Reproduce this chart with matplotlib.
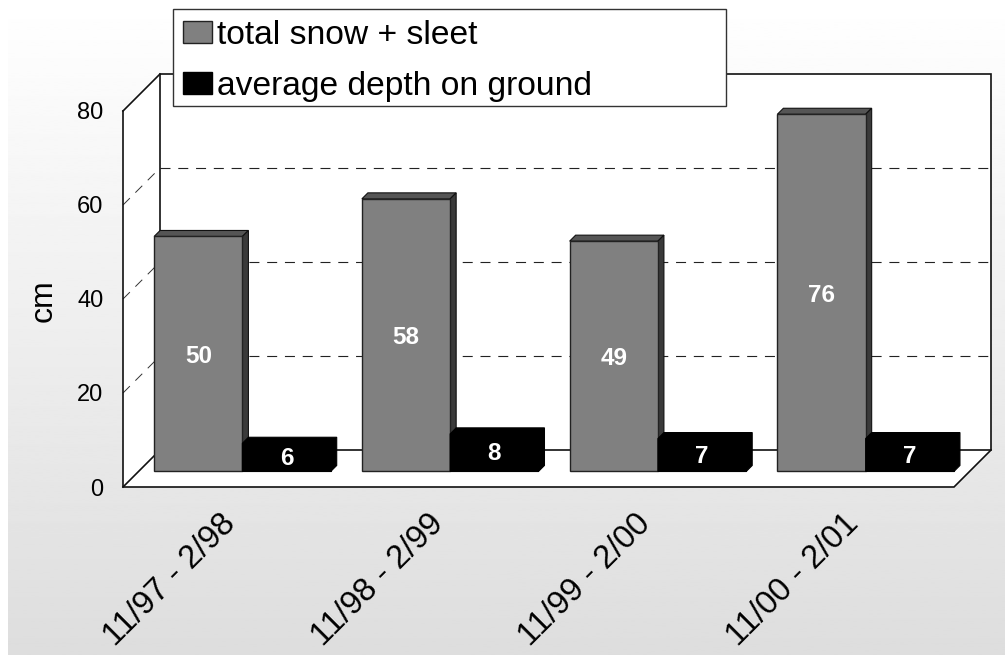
import numpy as np
import matplotlib
matplotlib.use("Agg")
import matplotlib.pyplot as plt
from matplotlib.patches import Patch, Rectangle

plt.rcParams["font.family"] = ["Liberation Sans", "DejaVu Sans"]

# data
periods = ["11/97 - 2/98", "11/98 - 2/99", "11/99 - 2/00", "11/00 - 2/01"]
total_snow = [50, 58, 49, 76]
avg_depth = [6, 8, 7, 7]
y_ticks = [0, 20, 40, 60, 80]
grid_vals = [20, 40, 60]

W, H = 1005, 655
DPI = 100
PX_X = 831 / 4    # pixels per category
PX_Y = 376 / 80   # pixels per cm
DX = 37 / PX_X    # full depth of the box in data units
DY = 37 / PX_Y
BAR_W = 0.425
BAR_D = 0.42      # bars stand at this fraction of the box depth
CAP = 6 / 37      # depth of a bar as a fraction of the box depth
LABEL_DROP = 2.5 / PX_Y

GRAY = "#808080"
GRAY_TOP = "#555555"
GRAY_SIDE = "#3a3a3a"
LINE = "#111111"

fig = plt.figure(figsize=(W / DPI, H / DPI), dpi=DPI, facecolor="white")

# gradient background
bg = fig.add_axes([8 / W, 0, 1 - 8 / W, 1], zorder=0)
bg.imshow(np.linspace(1.0, 0.868, 256).reshape(-1, 1), aspect="auto",
          cmap="gray", vmin=0, vmax=1)
bg.axis("off")

ax = fig.add_axes([123 / W, (H - 487) / H, 831 / W, 376 / H], zorder=1)
ax.set_xlim(0, 4)
ax.set_ylim(0, 80)
ax.patch.set_visible(False)
for s in ax.spines.values():
    s.set_visible(False)


def deep(x, y, d):
    # project a point of the front plane back into the box
    return x + d * DX, y + d * DY


def poly(points, d=0.0, **kw):
    xs, ys = zip(*[deep(px, py, d) for px, py in points])
    ax.fill(xs, ys, clip_on=False, **kw)


def line(points, **kw):
    xs, ys = zip(*points)
    ax.plot(xs, ys, clip_on=False, **kw)


# walls
bx, by = deep(0, 0, 1)
bx2, _ = deep(4, 0, 1)
_, by2 = deep(0, 80, 1)
poly([(0, 0), (4, 0), (bx2, by), (bx2, by2), (bx, by2), (0, 80)],
     facecolor="white", edgecolor="none", zorder=1)

# grid
for v in grid_vals:
    line([(0, v), deep(0, v, 1)], color="#333333", lw=0.7, dashes=(10, 8), zorder=2)
    line([deep(0, v, 1), deep(4, v, 1)], color="#222222", lw=0.8, dashes=(9, 7), zorder=2)

# box outline
frame = dict(color=LINE, lw=1.2, zorder=3, solid_joinstyle="miter")
line([(0, 80), (0, 0), (4, 0), (bx2, by), (bx2, by2), (bx, by2), (bx, by)], **frame)
line([(0, 80), (bx, by2)], **frame)
line([(0, 0), (bx, by), (bx2, by)], **frame)

# bars
centers = np.arange(len(periods)) + 0.5
for i, c in enumerate(centers):
    x0 = c - BAR_W
    x1 = c
    x2 = c + BAR_W
    v1 = total_snow[i]
    v2 = avg_depth[i]

    # gray bar
    poly([(x0, v1), (x1, v1), deep(x1, v1, CAP), deep(x0, v1, CAP)], d=BAR_D,
         facecolor=GRAY_TOP, edgecolor=LINE, lw=0.8, zorder=4)
    poly([(x1, 0), (x1, v1), deep(x1, v1, CAP), deep(x1, 0, CAP)], d=BAR_D,
         facecolor=GRAY_SIDE, edgecolor=LINE, lw=0.8, zorder=4)
    fx, fy = deep(x0, 0, BAR_D)
    ax.bar(fx, v1, width=BAR_W, bottom=fy, align="edge", color=GRAY,
           edgecolor="#222222", lw=1.0, clip_on=False, zorder=5)

    # black bar
    poly([(x1, 0), (x1, v2), deep(x1, v2, CAP), deep(x2, v2, CAP),
          deep(x2, 0, CAP), (x2, 0)], d=BAR_D,
         facecolor="black", edgecolor="black", lw=0.8, zorder=6)
    fx, fy = deep(x1, 0, BAR_D)
    ax.bar(fx, v2, width=BAR_W, bottom=fy, align="edge", color="black",
           edgecolor="black", lw=0.8, clip_on=False, zorder=6)

    # value labels
    tx, ty = deep(c - BAR_W / 2, v1 / 2 - LABEL_DROP, BAR_D)
    ax.text(tx, ty, str(v1), color="white", fontsize=17.5, fontweight="bold",
            ha="center", va="center", zorder=7)
    tx, ty = deep(c + BAR_W / 2, v2 / 2 - LABEL_DROP / 2, BAR_D)
    ax.text(tx, ty, str(v2), color="white", fontsize=17.5, fontweight="bold",
            ha="center", va="center", zorder=7)

# axes text
ax.set_yticks(y_ticks)
ax.tick_params(axis="y", length=0, pad=14, labelsize=17, labelcolor="black")
for t in ax.get_yticklabels():
    t.set_y(t.get_position()[1])
ax.set_ylabel("cm", fontsize=23)
ax.yaxis.set_label_coords(-0.078, 0.496)
ax.set_xticks(centers - 0.035, periods, rotation=45, ha="right", va="top",
              rotation_mode="anchor", fontsize=23.5)
ax.tick_params(axis="x", length=0, pad=15)

# legend box, drawn apart so its height can match
fig.add_artist(Rectangle((173 / W, 1 - 106 / H), 553 / W, 97 / H, transform=fig.transFigure,
                         facecolor="white", edgecolor="#333333", lw=1.0, zorder=9))
handles = [Patch(facecolor=GRAY, edgecolor="#222222", lw=1.0, label="total snow + sleet"),
           Patch(facecolor="black", edgecolor="black", lw=1.0, label="average depth on ground")]
leg = fig.legend(handles=handles, loc="upper left", mode="expand", frameon=False,
                 bbox_to_anchor=(172.5 / W, 1 - 106 / H, 553 / W, 97 / H),
                 bbox_transform=fig.transFigure, fontsize=24.2, fancybox=False,
                 borderaxespad=0, handlelength=0.85, handleheight=0.6,
                 handletextpad=0.14, borderpad=0.32, labelspacing=0.6)
leg.set_zorder(10)

fig.savefig("out.png", dpi=DPI)
